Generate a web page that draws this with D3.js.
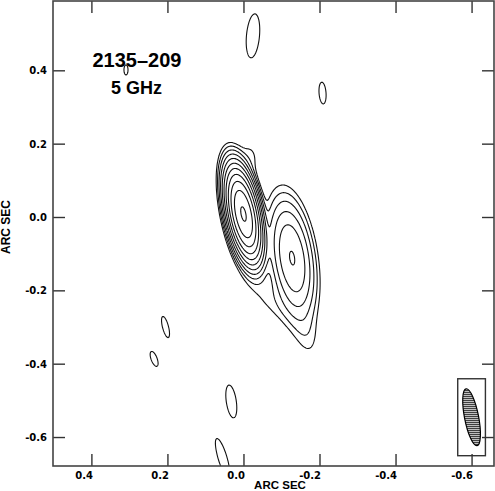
<!DOCTYPE html>
<html>
<head>
  <meta charset="utf-8">
  <script src="https://cdnjs.cloudflare.com/ajax/libs/d3/7.8.5/d3.min.js"></script>
  <title>2135-209</title>
  <style>
    body { margin: 0; background: #fff; }
    svg { display: block; }
  </style>
</head>
<body>
<script>
var fuente = "2135\u2013209", frecuencia = "5 GHz";
var etiquetaEje = "ARC SEC";

// contour levels, multiples of the lowest contour
var niveles = [1, 2, 4, 8, 16, 32, 64, 128, 256, 512, 1024];

// gaussian components (arcsec, relative peak, sigma arcsec, PA deg)
var compX    = [0.000, -0.128, -0.162, -0.017, -0.075, -0.025, -0.208, 0.205, 0.235, 0.032, 0.055, 0.309];
var compY    = [0.008, -0.112, -0.308, 0.161, -0.226, 0.494, 0.338, -0.300, -0.387, -0.503, -0.657, 0.401];
var compPico = [1100, 33, 1.3, 1.2, 1.2, 1.5, 1.5, 1.5, 1.5, 1.5, 1.5, 1.3];
var compMaj  = [0.053, 0.076, 0.055, 0.033, 0.060, 0.0667, 0.033, 0.033, 0.024, 0.050, 0.061, 0.019];
var compMin  = [0.0166, 0.026, 0.021, 0.018, 0.028, 0.019, 0.0102, 0.0088, 0.0088, 0.0146, 0.013, 0.0074];
var compPA   = [11, 8, 12, 0, 45, -5, 4, 14, 20, 8, 16, 0];

// restoring beam: centre, FWHM major/minor (arcsec), PA
var hazCentro = [-0.600, -0.546];
var hazEjes = [0.158, 0.037];
var hazPA = 11;

var ticksX = [0.4, 0.2, 0.0, -0.2, -0.4, -0.6];
var ticksY = [0.4, 0.2, 0.0, -0.2, -0.4, -0.6];

var W = 495, H = 491;
var izq = 53, der = 494, arr = 1, abj = 466;

var x = d3.scaleLinear().domain([0.501, -0.659]).range([izq, der]);
var y = d3.scaleLinear().domain([0.589, -0.679]).range([arr, abj]);

var svg = d3.select("body").append("svg")
  .attr("width", W)
  .attr("height", H);

svg.append("clipPath").attr("id", "marco")
  .append("rect")
  .attr("x", izq).attr("y", arr)
  .attr("width", der - izq).attr("height", abj - arr);

// brightness grid (a bit larger than the frame, clipped later)
var paso = 0.002, gx0 = 0.53, gx1 = -0.69, gy0 = 0.62, gy1 = -0.71;
var nx = Math.round((gx0 - gx1) / paso) + 1, ny = Math.round((gy0 - gy1) / paso) + 1;
var valores = new Float64Array(nx * ny);
var rad = Math.PI / 180;
for (var j = 0; j < ny; j++) {
  var yy = gy0 - j * paso;
  for (var i = 0; i < nx; i++) {
    var xx = gx0 - i * paso, s = 0;
    for (var k = 0; k < compX.length; k++) {
      var dx = xx - compX[k], dy = yy - compY[k];
      var sn = Math.sin(compPA[k] * rad), cs = Math.cos(compPA[k] * rad);
      var u = (dx * sn + dy * cs) / compMaj[k], v = (dx * cs - dy * sn) / compMin[k];
      var q = u * u + v * v;
      if (q < 60) s += compPico[k] * Math.exp(-0.5 * q);
    }
    valores[j * nx + i] = s;
  }
}

var contornos = d3.contours().size([nx, ny]).thresholds(niveles)(valores);

var camino = d3.geoPath(d3.geoTransform({
  point: function(px, py) {
    this.stream.point(x(gx0 - (px - 0.5) * paso), y(gy0 - (py - 0.5) * paso));
  }
}));

svg.append("g").attr("clip-path", "url(#marco)")
  .selectAll("path").data(contornos).enter().append("path")
  .attr("d", camino)
  .attr("fill", "none")
  .attr("stroke", "#111")
  .attr("stroke-width", 1.1)
  .attr("stroke-linejoin", "round");

// beam in the lower right corner
var bx = x(hazCentro[0]), by = y(hazCentro[1]);
var rx = Math.abs(x(hazCentro[0] + hazEjes[1] / 2) - bx);
var ry = Math.abs(y(hazCentro[1] + hazEjes[0] / 2) - by);
var t = hazPA * rad;
var medioAncho = Math.sqrt(Math.pow(ry * Math.sin(t), 2) + Math.pow(rx * Math.cos(t), 2)) + 5;
var medioAlto = Math.sqrt(Math.pow(ry * Math.cos(t), 2) + Math.pow(rx * Math.sin(t), 2)) + 10;

svg.append("rect")
  .attr("x", bx - medioAncho).attr("y", by - medioAlto)
  .attr("width", 2 * medioAncho).attr("height", 2 * medioAlto)
  .attr("fill", "none").attr("stroke", "#333").attr("stroke-width", 1.4);

svg.append("clipPath").attr("id", "haz")
  .append("ellipse")
  .attr("cx", bx).attr("cy", by).attr("rx", rx).attr("ry", ry)
  .attr("transform", "rotate(" + (-hazPA) + "," + bx + "," + by + ")");

svg.append("g").attr("clip-path", "url(#haz)")
  .selectAll("line").data(d3.range(by - ry, by + ry, 2)).enter().append("line")
  .attr("x1", bx - medioAncho).attr("x2", bx + medioAncho)
  .attr("y1", function(d) { return d; }).attr("y2", function(d) { return d; })
  .attr("stroke", "#000").attr("stroke-width", 1.1);

svg.append("ellipse")
  .attr("cx", bx).attr("cy", by).attr("rx", rx).attr("ry", ry)
  .attr("transform", "rotate(" + (-hazPA) + "," + bx + "," + by + ")")
  .attr("fill", "none").attr("stroke", "#000").attr("stroke-width", 1.2);

// axes with inward ticks
var fmt = function(d) { return d.toFixed(1); };

function estilo(g) {
  g.select(".domain").remove();
  g.selectAll(".tick line").attr("stroke", "#333").attr("stroke-width", 1.4);
  g.selectAll("text")
    .attr("font-family", "DejaVu Sans")
    .attr("font-weight", "bold")
    .attr("font-size", 10)
    .attr("fill", "#000");
}

svg.append("g").attr("transform", "translate(0," + abj + ")")
  .call(d3.axisBottom(x).tickValues(ticksX).tickSize(-12).tickPadding(6).tickFormat(fmt))
  .call(estilo)
  .selectAll("text").attr("text-anchor", "end").attr("dx", 1);

svg.append("g").attr("transform", "translate(0," + arr + ")")
  .call(d3.axisTop(x).tickValues(ticksX).tickSize(-12).tickFormat(""))
  .call(estilo);

svg.append("g").attr("transform", "translate(" + izq + ",0)")
  .call(d3.axisLeft(y).tickValues(ticksY).tickSize(-12).tickPadding(6).tickFormat(fmt))
  .call(estilo)
  .selectAll("text").attr("dy", "0.36em");

svg.append("g").attr("transform", "translate(" + der + ",0)")
  .call(d3.axisRight(y).tickValues(ticksY).tickSize(-12).tickFormat(""))
  .call(estilo);

svg.append("rect")
  .attr("x", izq).attr("y", arr)
  .attr("width", der - izq).attr("height", abj - arr)
  .attr("fill", "none").attr("stroke", "#444").attr("stroke-width", 1.6);

// axis titles
svg.append("text")
  .attr("x", 280).attr("y", 489)
  .attr("text-anchor", "middle")
  .attr("font-family", "Liberation Sans, Arial, sans-serif")
  .attr("font-weight", "bold").attr("font-size", 11.5)
  .text(etiquetaEje);

svg.append("text")
  .attr("transform", "translate(9.5,227) rotate(-90)")
  .attr("text-anchor", "middle")
  .attr("font-family", "Liberation Sans, Arial, sans-serif")
  .attr("font-weight", "bold").attr("font-size", 12)
  .text(etiquetaEje);

// source label
svg.append("text")
  .attr("x", 137).attr("y", 67)
  .attr("text-anchor", "middle")
  .attr("font-family", "Liberation Sans, Arial, sans-serif")
  .attr("font-weight", "bold").attr("font-size", 20)
  .text(fuente);

svg.append("text")
  .attr("x", 136.5).attr("y", 94)
  .attr("text-anchor", "middle")
  .attr("font-family", "Liberation Sans, Arial, sans-serif")
  .attr("font-weight", "bold").attr("font-size", 18)
  .text(frecuencia);
</script>
</body>
</html>
